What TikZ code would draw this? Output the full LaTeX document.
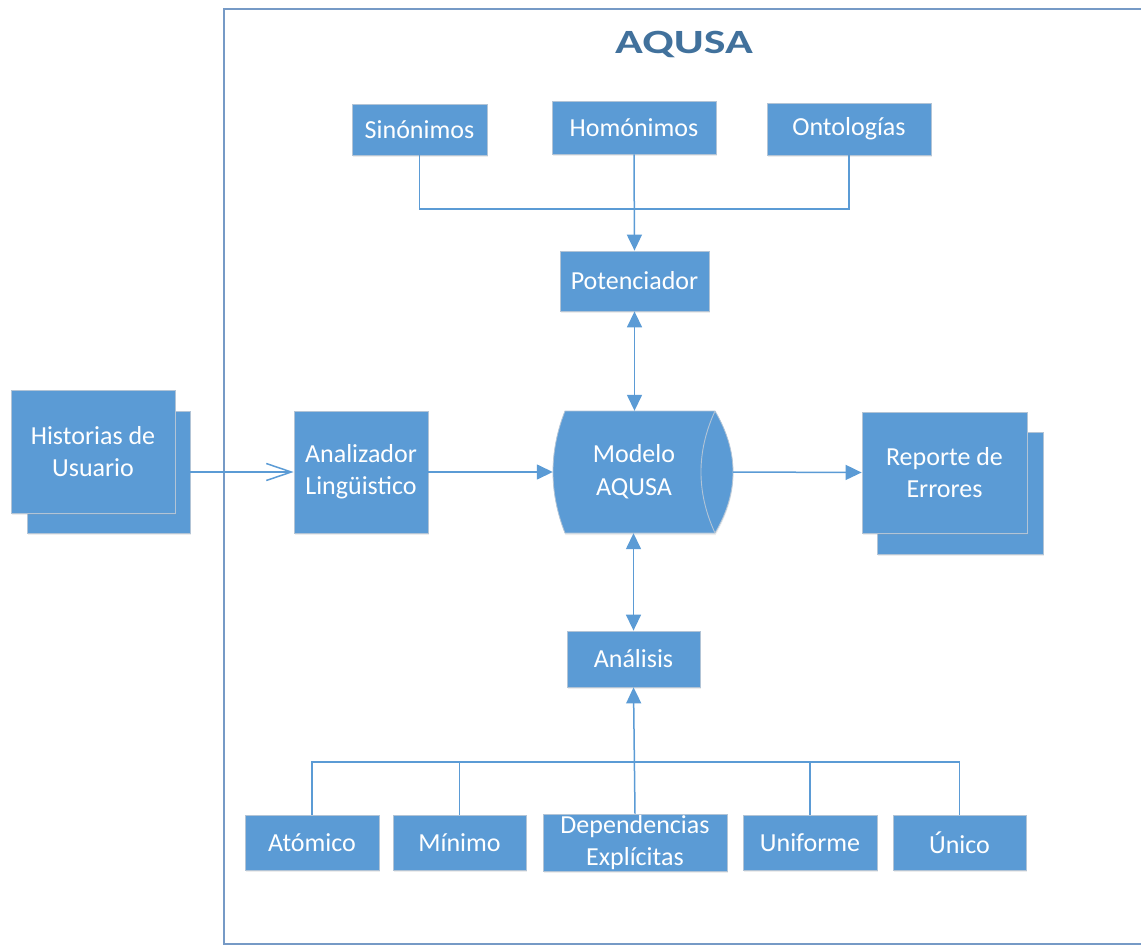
\documentclass[tikz,border=0pt]{standalone}
\usepackage{fontspec}
\usepackage{graphicx}
\setmainfont{Carlito}
\usetikzlibrary{arrows.meta,shadows}
\definecolor{boxblue}{RGB}{91,155,213}
\definecolor{edgegray}{RGB}{178,196,214}
\definecolor{framecol}{RGB}{118,154,198}
\definecolor{titlecol}{RGB}{65,113,156}
\tikzset{
  box/.style={draw=edgegray, line width=0.8pt, fill=boxblue, text=white,
    font=\fontsize{26}{32}\selectfont, align=center, inner sep=0pt,
    drop shadow={shadow xshift=0.5pt, shadow yshift=-2pt, opacity=0.18, fill=black!40}},
  plain/.style={text=white, font=\fontsize{26}{33}\selectfont, align=center, inner sep=0pt},
  conn/.style={draw=boxblue, line width=1.5pt},
  tip/.tip={Triangle[length=16pt,width=15pt]},
  open/.tip={Straight Barb[length=25pt,width=17pt,line width=1.5pt]},
}
\begin{document}
\begin{tikzpicture}[x=1pt,y=-1pt]
\useasboundingbox (0,0) rectangle (1141,945);
\clip (0,0) rectangle (1141,945);

% outer system frame
\draw[framecol, line width=2pt] (1170,9) -- (224,9) -- (224,944) -- (1170,944);
\node[font=\fontsize{34}{34}\selectfont\bfseries, text=titlecol] (title) at (684,44) {\scalebox{1.35}[1]{AQUSA}};

% input documents
\node[box, minimum width=163pt, minimum height=122pt] (histback) at (108.5,472) {};
\node[box, minimum width=164pt, minimum height=123pt] (hist) at (93,451.5) {Historias de\\Usuario};

% linguistic analyser
\node[box, minimum width=134pt, minimum height=122pt] (anal) at (361,472) {Analizador\\Lingüistico};

% model store (direct data shape)
\path[fill=boxblue, draw=edgegray, line width=0.8pt,
      drop shadow={shadow xshift=0.5pt, shadow yshift=-2pt, opacity=0.18, fill=black!40}]
  (565,411) -- (715,411) .. controls (739,451.7) and (739,492.3) .. (715,533)
  -- (565,533) .. controls (549,492.3) and (549,451.7) .. (565,411) -- cycle;
\draw[edgegray, line width=0.9pt] (715,411) .. controls (696.3,451.7) and (696.3,492.3) .. (715,533);
\node[minimum width=180pt, minimum height=122pt, inner sep=0pt] (modelo) at (643,472) {};
\node[plain] (modelotxt) at (634,472) {Modelo\\AQUSA};

% error report documents
\node[box, minimum width=166pt, minimum height=122pt] (repback) at (960,493) {};
\node[box, minimum width=165pt, minimum height=121pt] (rep) at (944.5,472.5) {Reporte de\\Errores};

% knowledge sources
\node[box, minimum width=135pt, minimum height=51pt] (sin) at (419.5,129.5) {Sinónimos};
\node[box, minimum width=164pt, minimum height=53pt] (hom) at (634,127.5) {Homónimos};
\node[box, minimum width=164pt, minimum height=52pt] (ont) at (849,129) {Ontologías};
\node[box, minimum width=149pt, minimum height=60pt] (pot) at (634.5,281) {Potenciador};

% analysis and quality criteria
\node[box, minimum width=133pt, minimum height=56pt] (anl) at (633.5,659) {Análisis};
\node[box, minimum width=134pt, minimum height=55pt] (ato) at (312,842.5) {Atómico};
\node[box, minimum width=133pt, minimum height=55pt] (min) at (459.5,842.5) {Mínimo};
\node[box, minimum width=184pt, minimum height=57pt] (dep) at (635,842.5) {Dependencias\\Explícitas};
\node[box, minimum width=134pt, minimum height=55pt] (uni) at (810,842.5) {Uniforme};
\node[box, minimum width=133pt, minimum height=55pt] (unico) at (959.5,842.5) {Único};

% connectors
\coordinate (topbus) at (0,209);
\coordinate (botbus) at (0,762);
\draw[conn] (sin.south) -- (sin.south |- topbus) -- (ont.south |- topbus) -- (ont.south);
\draw[conn, -tip] (hom.south) -- (pot.north);
\draw[conn, tip-tip] (pot.south) -- (pot.south |- modelo.north);
\draw[conn, tip-tip] (anl.north |- modelo.south) -- (anl.north);
\draw[conn] (ato.north) -- (ato.north |- botbus) -- (unico.north |- botbus) -- (unico.north);
\draw[conn] (min.north) -- (min.north |- botbus);
\draw[conn] (uni.north) -- (uni.north |- botbus);
\draw[conn, -tip] (dep.north) -- (anl.south);
\draw[conn, -open] (histback.east) -- (anal.west);
\draw[conn, -tip] (anal.east) -- (modelo.west);
\draw[conn, -tip] (modelo.east) -- (rep.west);
\end{tikzpicture}
\end{document}
